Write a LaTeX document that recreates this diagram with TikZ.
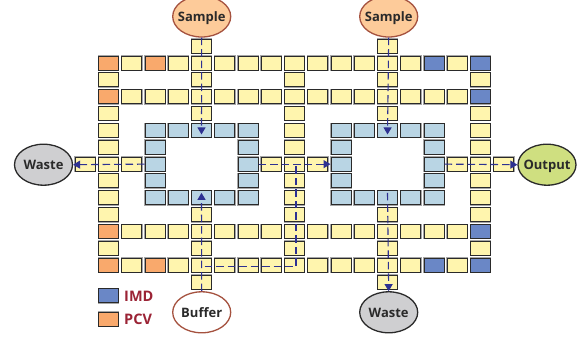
\documentclass[tikz,border=0pt]{standalone}
\usepackage{fontspec}
\setmainfont{Open Sans}
\usetikzlibrary{arrows.meta,calc,shapes.geometric}
\definecolor{cy}{HTML}{FFF5AE}
\definecolor{co}{HTML}{F9A96C}
\definecolor{cb}{HTML}{6A87C6}
\definecolor{cl}{HTML}{B9D5E4}
\definecolor{flow}{HTML}{2E3192}
\definecolor{rim}{HTML}{A5523F}
\definecolor{ink}{HTML}{2A2A2A}
\definecolor{lab}{HTML}{9B2335}
\definecolor{csample}{HTML}{FDCB9A}
\definecolor{cwaste}{HTML}{CFCFD1}
\definecolor{coutput}{HTML}{CFDF80}
\tikzset{
  cell/.style={draw=ink,line width=1pt,minimum width=20pt,minimum height=14pt,inner sep=0pt,
    preaction={draw=gray!70,line width=1.8pt}},
  yel/.style={cell,fill=cy},
  org/.style={cell,fill=co},
  imd/.style={cell,fill=cb},
  lbl/.style={cell,fill=cl},
  port/.style={ellipse,draw,line width=1.3pt,minimum width=58pt,minimum height=41pt,inner xsep=-10pt,inner ysep=0pt,
    text height=9.5pt,text depth=0pt,
    font=\fontsize{13}{14}\selectfont\bfseries,text=ink},
  flowline/.style={draw=flow,line width=1.1pt,dash pattern=on 7.5pt off 4pt},
  arr/.style={flowline,-{Triangle[length=7pt,width=8pt]}},
  legend/.style={font=\fontsize{14.5}{15}\selectfont\bfseries,text=lab,anchor=west,inner sep=0pt}
}
\newcommand\cells[3]{\foreach \c in {#3}{\node[#1] (c#2-\c) at ({108.5+23.25*\c},{46.2+16.85*#2}) {};}}
\begin{document}
\begin{tikzpicture}[x=1pt,y=-1pt]
\fill[white] (0,0) rectangle (584,339);
\clip (0,0) rectangle (584,339);
% rows
\cells{yel}{0}{4,12}
\cells{yel}{1}{1,3,4,5,6,7,8,9,10,11,12,13,15}
\cells{org}{1}{0,2}
\cells{imd}{1}{14,16}
\cells{yel}{2}{0,4,8,12,16}
\cells{yel}{3}{1,2,3,4,5,6,7,8,9,10,11,12,13,14,15}
\cells{org}{3}{0}
\cells{imd}{3}{16}
\cells{yel}{4}{0,4,8,12,16}
\cells{yel}{5}{0,8,16}
\cells{lbl}{5}{2,3,4,5,6,10,11,12,13,14}
\cells{yel}{6}{0,8,16}
\cells{lbl}{6}{2,6,10,14}
\cells{yel}{7}{-1,0,1,7,8,9,15,16,17}
\cells{lbl}{7}{2,6,10,14}
\cells{yel}{8}{0,8,16}
\cells{lbl}{8}{2,6,10,14}
\cells{yel}{9}{0,8,16}
\cells{lbl}{9}{2,3,4,5,6,10,11,12,13,14}
\cells{yel}{10}{0,4,8,12,16}
\cells{yel}{11}{1,2,3,4,5,6,7,8,9,10,11,12,13,14,15}
\cells{org}{11}{0}
\cells{imd}{11}{16}
\cells{yel}{12}{0,4,8,12,16}
\cells{yel}{13}{1,3,4,5,6,7,8,9,10,11,12,13,15}
\cells{org}{13}{0,2}
\cells{imd}{13}{14,16}
\cells{yel}{14}{4,12}
% ports
\node[port,draw=rim,fill=csample] (s1) at (201.7,16.5) {Sample};
\node[port,draw=rim,fill=csample] (s2) at (388.7,16.5) {Sample};
\node[port,draw=rim,fill=white] (buf) at (201.7,312.3) {Buffer};
\node[port,draw=ink,fill=cwaste] (wl) at (43.5,164.7) {Waste};
\node[port,draw=ink,fill=coutput] (out) at (547,164.7) {Output};
\node[port,draw=ink,fill=cwaste] (wb) at (388.7,312.3) {Waste};
% legend
\node[imd] (limd) at (108.5,295.7) {};
\node[org] (lpcv) at (108.5,319) {};
\node[legend] (timd) at (124,296) {IMD};
\node[legend] (tpcv) at (124,319) {PCV};
% flows
\draw[arr] (s1.south) -- ($(c5-4.center)+(0,4)$);
\draw[arr] (s2.south) -- ($(c5-12.center)+(0,4)$);
\draw[arr] (buf.north) -- ($(c9-4.center)+(0,-5)$);
\draw[arr] ($(c9-12.center)+(0,-5)$) -- (wb.north);
\draw[arr] (c7-2.west) -- (wl.east);
\draw[arr] (c7-6.east) -- (c7-10.west);
\draw[arr] (c7-14.east) -- (out.west);
\draw[flowline] ($(c13-4.center)+(3,1)$) -- ($(c13-8.center)+(1.5,1)$) -- ($(c7-8.center)+(1.5,0)$);
\end{tikzpicture}
\end{document}
